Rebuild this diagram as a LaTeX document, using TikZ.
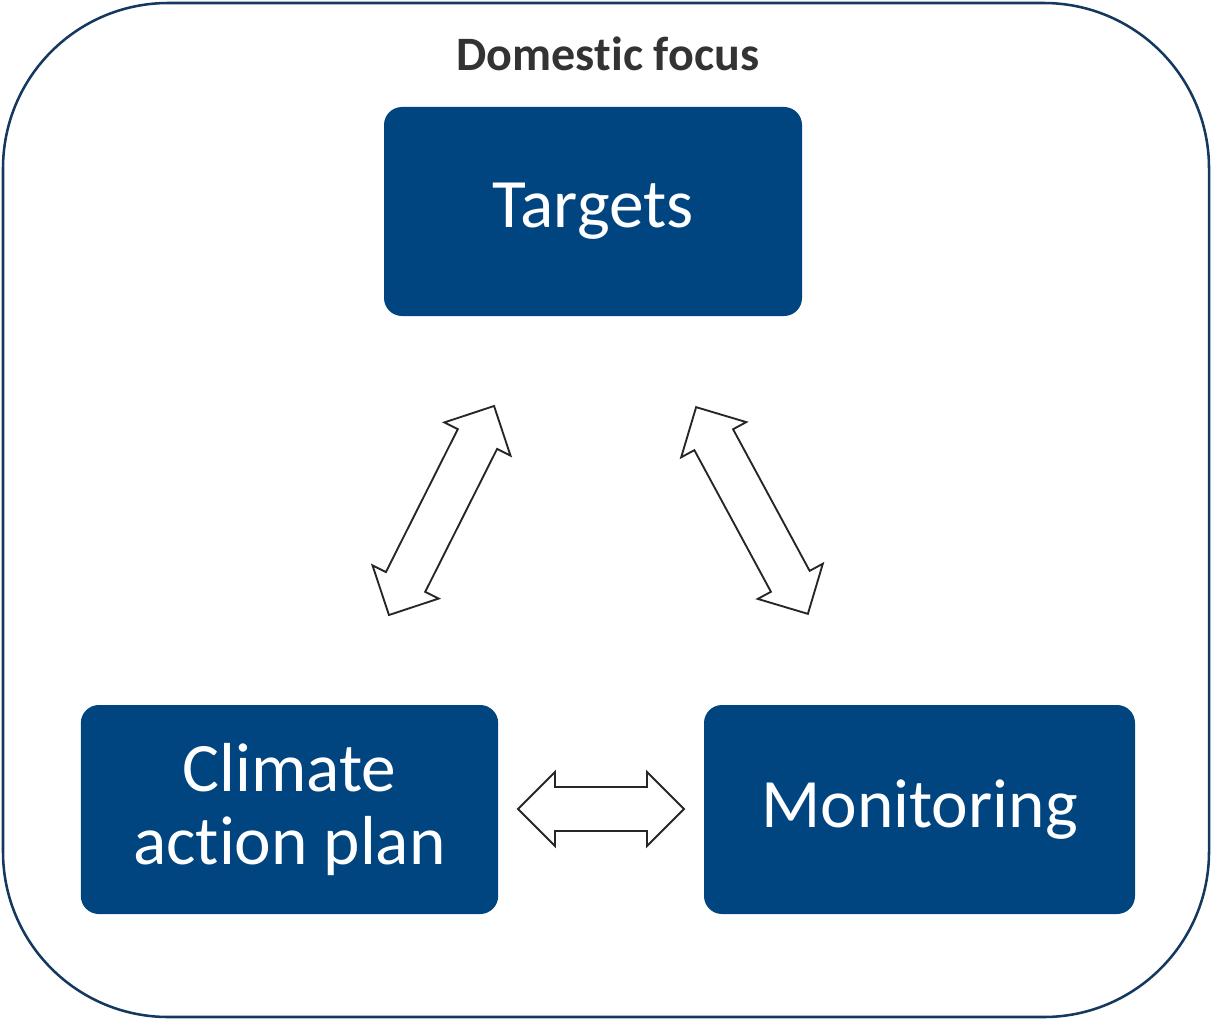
\documentclass[tikz,border=0pt]{standalone}
\usepackage{fontspec}
\setmainfont{Carlito}[Ligatures=NoCommon]
\definecolor{boxblue}{RGB}{0,69,127}
\definecolor{framenavy}{RGB}{20,56,94}
\definecolor{titlegray}{RGB}{51,51,51}
\tikzset{
  stagebox/.style={rounded corners=13.5pt, fill=boxblue, draw=none, text=white,
    minimum height=156.75pt, align=center, inner sep=0pt,
    font=\fontsize{52}{55}\selectfont},
  arrowline/.style={draw=black!85, line width=1.4pt, fill=white, line join=miter},
}
% block arrow: x, y, angle, length (picture px)
\newcommand{\blockarrow}[4]{%
  \begin{scope}[shift={(#1,#2)},rotate=#3]
    \draw[arrowline] (-#4/2,0) -- (-#4/2+37,37) -- (-#4/2+37,22) -- (#4/2-37,22)
      -- (#4/2-37,37) -- (#4/2,0) -- (#4/2-37,-37) -- (#4/2-37,-22)
      -- (-#4/2+37,-22) -- (-#4/2+37,-37) -- cycle;
  \end{scope}}
\begin{document}
\begin{tikzpicture}[x=0.75pt,y=0.75pt,yscale=-1,xscale=1]
  \useasboundingbox (0,0) rectangle (1212,1020);
  %Outer frame
  \draw[framenavy, line width=1.9pt, rounded corners=124pt] (3,3) rectangle (1209,1017);
  % Title
  \node (title) at (608,54) [text=titlegray, font=\bfseries\fontsize{36}{40}\selectfont] {Domestic focus};
  % Stages
  \node[stagebox, minimum width=313.5pt] (targets) at (593,211.5) {Targets};
  \node[stagebox, minimum width=313pt] (plan) at (289.5,809.5) {Climate\\action plan};
  \node[stagebox, minimum width=323.25pt] (monitoring) at (919.5,809.5) {Monitoring};
  % Block arrows
  \blockarrow{441.5}{510.5}{-63.3}{234}
  \blockarrow{752}{510.5}{-118.4}{235}
  \blockarrow{601}{809}{0}{166}
\end{tikzpicture}
\end{document}
